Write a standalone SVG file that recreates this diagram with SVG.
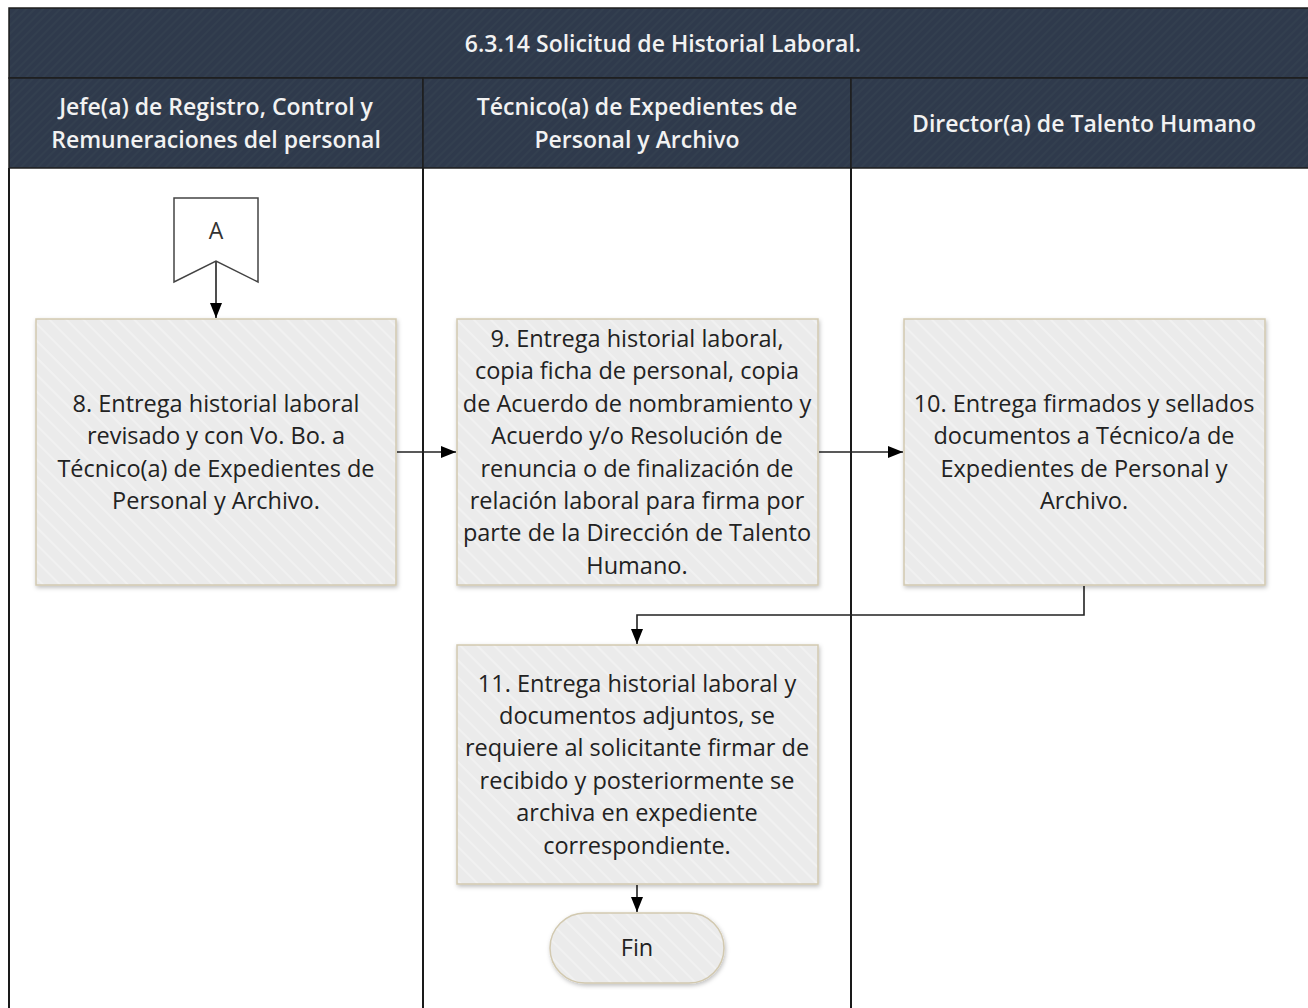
<svg xmlns="http://www.w3.org/2000/svg" width="1308" height="1008" viewBox="0 0 1308 1008">
<defs>
<pattern id="hdrp" patternUnits="userSpaceOnUse" width="6" height="6" patternTransform="rotate(45)">
<rect width="6" height="6" fill="#2f3a4c"/><rect width="2" height="6" fill="#333f4f"/>
</pattern>
<pattern id="boxp" patternUnits="userSpaceOnUse" width="12" height="12" patternTransform="rotate(-45)">
<rect width="12" height="12" fill="#ebebeb"/><rect width="2" height="12" fill="#f1f1f1"/>
</pattern>
<filter id="sh" x="-10%" y="-10%" width="120%" height="120%">
<feDropShadow dx="1" dy="2" stdDeviation="2" flood-color="#000" flood-opacity="0.25"/>
</filter>
<marker id="ah2" viewBox="0 0 10 10" refX="10" refY="5" markerWidth="15" markerHeight="15" markerUnits="userSpaceOnUse" orient="auto">
<path d="M0,1 L10,5 L0,9 z" fill="#000"/>
</marker>
</defs>
<style>
.hdr{fill:url(#hdrp);stroke:#1e1e1e;stroke-width:1.5}
.ht{font-family:"Open Sans","Noto Sans",sans-serif;font-size:23px;font-weight:600;fill:#f2f2f2;text-anchor:middle}
.box{fill:url(#boxp);stroke:#d2c9b0;stroke-width:1.5;filter:url(#sh)}
.bt{font-family:"Open Sans","Noto Sans",sans-serif;font-size:23.5px;fill:#222;text-anchor:middle}
.lane{stroke:#1a1a1a;stroke-width:2;fill:none}
.con{stroke:#222;stroke-width:1.6;fill:none;marker-end:url(#ah2)}
</style>
<rect width="1308" height="1008" fill="#fff"/>
<g id="pool">
<rect class="hdr" x="9" y="8" width="1310" height="70"/>
<text class="ht" x="663" y="52">6.3.14 Solicitud de Historial Laboral.</text>
<rect class="hdr" x="9" y="78" width="414" height="90"/>
<rect class="hdr" x="423" y="78" width="428" height="90"/>
<rect class="hdr" x="851" y="78" width="470" height="90"/>
<text class="ht" x="216" y="115">Jefe(a) de Registro, Control y</text>
<text class="ht" x="216" y="148">Remuneraciones del personal</text>
<text class="ht" x="637" y="115">Técnico(a) de Expedientes de</text>
<text class="ht" x="637" y="148">Personal y Archivo</text>
<text class="ht" x="1084" y="132">Director(a) de Talento Humano</text>
<line class="lane" x1="9" y1="168" x2="9" y2="1008"/>
<line class="lane" x1="423" y1="168" x2="423" y2="1008"/>
<line class="lane" x1="851" y1="168" x2="851" y2="1008"/>
</g>
<g id="connectors">
<line class="con" x1="216" y1="262" x2="216" y2="318"/>
<line class="con" x1="397" y1="452" x2="456" y2="452"/>
<line class="con" x1="819" y1="452" x2="903" y2="452"/>
<polyline class="con" points="1084,586 1084,615 637,615 637,644"/>
<line class="con" x1="637" y1="885" x2="637" y2="912"/>
</g>
<g id="nodeA">
<path d="M174,198 L258,198 L258,282 L216,261 L174,282 Z" fill="#fff" stroke="#444" stroke-width="1.5"/>
<text x="216" y="239" font-family="'Open Sans','Noto Sans',sans-serif" font-size="23" fill="#333" text-anchor="middle">A</text>
</g>
<g id="node8">
<rect class="box" x="36" y="319" width="360" height="266"/>
<text class="bt" x="216" y="412">8. Entrega historial laboral</text>
<text class="bt" x="216" y="444">revisado y con Vo. Bo. a</text>
<text class="bt" x="216" y="477">Técnico(a) de Expedientes de</text>
<text class="bt" x="216" y="509">Personal y Archivo.</text>
</g>
<g id="node9">
<rect class="box" x="457" y="319" width="361" height="266"/>
<text class="bt" x="637" y="347">9. Entrega historial laboral,</text>
<text class="bt" x="637" y="379">copia ficha de personal, copia</text>
<text class="bt" x="637" y="412">de Acuerdo de nombramiento y</text>
<text class="bt" x="637" y="444">Acuerdo y/o Resolución de</text>
<text class="bt" x="637" y="477">renuncia o de finalización de</text>
<text class="bt" x="637" y="509">relación laboral para firma por</text>
<text class="bt" x="637" y="541">parte de la Dirección de Talento</text>
<text class="bt" x="637" y="574">Humano.</text>
</g>
<g id="node10">
<rect class="box" x="904" y="319" width="361" height="266"/>
<text class="bt" x="1084" y="412">10. Entrega firmados y sellados</text>
<text class="bt" x="1084" y="444">documentos a Técnico/a de</text>
<text class="bt" x="1084" y="477">Expedientes de Personal y</text>
<text class="bt" x="1084" y="509">Archivo.</text>
</g>
<g id="node11">
<rect class="box" x="457" y="645" width="361" height="239"/>
<text class="bt" x="637" y="692">11. Entrega historial laboral y</text>
<text class="bt" x="637" y="724">documentos adjuntos, se</text>
<text class="bt" x="637" y="756">requiere al solicitante firmar de</text>
<text class="bt" x="637" y="789">recibido y posteriormente se</text>
<text class="bt" x="637" y="821">archiva en expediente</text>
<text class="bt" x="637" y="854">correspondiente.</text>
</g>
<g id="fin">
<rect class="box" x="550" y="913" width="174" height="70" rx="35" ry="35"/>
<text class="bt" x="637" y="956" font-size="21.5">Fin</text>
</g>
</svg>
